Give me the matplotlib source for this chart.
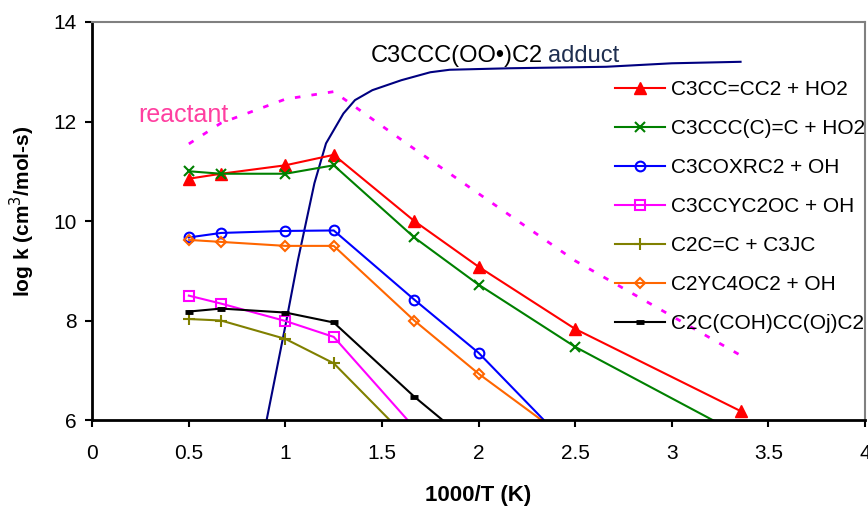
import matplotlib
matplotlib.use('Agg')
import matplotlib.pyplot as plt

plt.rcParams['font.family'] = ['Liberation Sans', 'DejaVu Sans']

# 1000/T values (K^-1)
inv_T = [0.5, 0.6667, 1.0, 1.25, 1.6667, 2.0, 2.5, 3.356]

labels = ['C3CC=CC2 + HO2', 'C3CCC(C)=C + HO2', 'C3COXRC2 + OH',
          'C3CCYC2OC + OH', 'C2C=C + C3JC', 'C2YC4OC2 + OH',
          'C2C(COH)CC(Oj)C2']

k_c3cc_ho2 = [10.85, 10.95, 11.12, 11.33, 10.0, 9.08, 7.83, 6.18]
k_c3ccc_ho2 = [11.0, 10.95, 10.95, 11.12, 9.67, 8.72, 7.47, 5.7]
k_c3coxrc2 = [9.67, 9.76, 9.80, 9.81, 8.42, 7.35, 5.35]
k_c3ccyc2oc = [8.5, 8.34, 7.99, 7.67, 5.85]
k_c2c_c3jc = [8.03, 8.0, 7.63, 7.14, 5.5]
k_c2yc4oc2 = [9.62, 9.58, 9.50, 9.50, 8.0, 6.93, 5.5]
k_c2c_coh = [8.18, 8.24, 8.16, 7.96, 6.47, 5.4]

k_reactant = [11.55, 11.97, 12.45, 12.6, 11.45, 10.55, 9.2, 7.3]

adduct_x = [0.9, 1.0, 1.065, 1.15, 1.21, 1.3, 1.36, 1.45, 1.6, 1.75, 1.85,
            2.16, 2.66, 3.0, 3.356]
adduct_k = [5.95, 7.9, 9.22, 10.76, 11.56, 12.16, 12.43, 12.63, 12.83, 12.99,
            13.04, 13.07, 13.1, 13.17, 13.2]

fig = plt.figure(figsize=(8.68, 5.08), dpi=100)
ax = fig.add_axes([0.1063, 0.1732, 0.8902, 0.7835])

ax.plot(adduct_x, adduct_k, color='#000080', lw=1.5)
ax.plot(inv_T, k_reactant, color='#ff00ff', lw=2, linestyle=(0, (2, 4)))

lw = 1.5
ax.plot(inv_T[:len(k_c3cc_ho2)], k_c3cc_ho2, color='red', lw=lw,
        marker='^', ms=9, label=labels[0])
ax.plot(inv_T[:len(k_c3ccc_ho2)], k_c3ccc_ho2, color='green', lw=lw,
        marker='x', ms=7, mew=1.5, label=labels[1])
ax.plot(inv_T[:len(k_c3coxrc2)], k_c3coxrc2, color='blue', lw=lw,
        marker='o', ms=7, mfc='none', mew=1.5, label=labels[2])
ax.plot(inv_T[:len(k_c3ccyc2oc)], k_c3ccyc2oc, color='#ff00ff', lw=lw,
        marker='s', ms=7, mfc='none', mew=1.5, label=labels[3])
ax.plot(inv_T[:len(k_c2c_c3jc)], k_c2c_c3jc, color='#808000', lw=lw,
        marker='+', ms=8, mew=1.5, label=labels[4])
ax.plot(inv_T[:len(k_c2yc4oc2)], k_c2yc4oc2, color='#ff6600', lw=lw,
        marker='D', ms=5.5, mfc='none', mew=1.5, label=labels[5])
ax.plot(inv_T[:len(k_c2c_coh)], k_c2c_coh, color='black', lw=lw,
        marker='_', ms=6, mew=3.5, label=labels[6])

ax.text(1.44, 13.2, 'C3CCC(OO\u2022)C2', fontsize=17, color='black', va='baseline')
ax.text(2.36, 13.2, 'adduct', fontsize=17, color='#1f2f50', va='baseline')
ax.text(0.238, 12.0, 'reactant', fontsize=18, color='#ff3fa0', va='baseline')

ax.set_xlim(0, 4)
ax.set_ylim(6, 14)
ax.set_xticks([0, 0.5, 1, 1.5, 2, 2.5, 3, 3.5, 4])
ax.set_xticklabels(['0', '0.5', '1', '1.5', '2', '2.5', '3', '3.5', '4'])
ax.set_yticks([6, 8, 10, 12, 14])
ax.tick_params(labelsize=15, length=5, width=1.5, direction='out')
ax.tick_params(axis='x', pad=12)
ax.tick_params(axis='y', pad=6)

for s in ['left', 'bottom']:
    ax.spines[s].set_linewidth(2)
    ax.spines[s].set_color('black')
for s in ['top', 'right']:
    ax.spines[s].set_linewidth(1.5)
    ax.spines[s].set_color('#808080')

ax.set_xlabel('1000/T (K)', fontsize=16, fontweight='bold')
ax.set_ylabel('log k (cm$^3$/mol-s)', fontsize=15, fontweight='bold')
ax.xaxis.set_label_coords(0.5, -0.163)
ax.yaxis.set_label_coords(-0.0715, 0.524)

leg = ax.legend(loc='upper left', bbox_to_anchor=(615 / 868, 1 - 80 / 508),
                bbox_transform=fig.transFigure, frameon=False, fontsize=15,
                handlelength=2.4, handletextpad=0.3, labelspacing=0.96,
                borderpad=0, borderaxespad=0)

fig.savefig('out.png', dpi=100)
